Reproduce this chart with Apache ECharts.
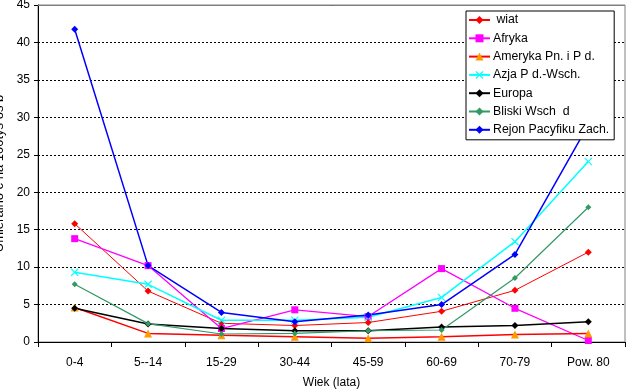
<!DOCTYPE html>
<html>
<head>
<meta charset="utf-8">
<script src="https://cdn.jsdelivr.net/npm/echarts@6/dist/echarts.min.js"></script>
<style>
html,body{margin:0;padding:0;background:#fff;overflow:hidden;}
#main{width:627px;height:391px;}
</style>
</head>
<body>
<div id="main"></div>
<script>
const categories = ['0-4', '5--14', '15-29', '30-44', '45-59', '60-69', '70-79', 'Pow. 80'];
const seriesNames = [' wiat', 'Afryka', 'Ameryka Pn. i P d.', 'Azja P d.-Wsch.', 'Europa', 'Bliski Wsch  d', 'Rejon Pacyfiku Zach.'];
const swiat    = [15.8, 6.8, 2.5, 2.2, 2.6, 4.1, 6.9, 12.0];
const afryka   = [13.8, 10.2, 1.8, 4.3, 3.4, 9.8, 4.5, 0.2];
const ameryka  = [4.6, 1.15, 0.9, 0.7, 0.5, 0.7, 1.0, 1.15];
const azja     = [9.3, 7.7, 2.9, 2.9, 3.3, 5.95, 13.4, 24.1];
const europa   = [4.5, 2.4, 1.8, 1.5, 1.5, 2.0, 2.2, 2.7];
const bliski   = [7.7, 2.45, 1.07, 1.15, 1.5, 1.6, 8.55, 18.0];
const pacyfik  = [41.75, 10.2, 3.95, 2.7, 3.6, 5.0, 11.7, 29.0];
const yTicks = {min: 0, max: 45, interval: 5};

const FONT = 'Liberation Sans';
const xPath = 'path://M1,0 L5,4 L9,0 L10,1 L6,5 L10,9 L9,10 L5,6 L1,10 L0,9 L4,5 L0,1 Z';

function mk(name, data, lineColor, symColor, symbol, size, width) {
  return {
    name: name, type: 'line', data: data,
    symbol: symbol, symbolSize: size, showSymbol: true,
    lineStyle: {color: lineColor, width: width},
    itemStyle: {color: symColor},
    emphasis: {disabled: true},
    animation: false
  };
}

const series = [
  mk(seriesNames[0], swiat, '#FF0000', '#FF0000', 'diamond', 7, 1),
  mk(seriesNames[1], afryka, '#FF00FF', '#FF00FF', 'rect', 7, 1.3),
  mk(seriesNames[2], ameryka, '#FF0000', '#FF9900', 'triangle', 8, 1.5),
  mk(seriesNames[3], azja, '#00FFFF', '#00FFFF', xPath, 8, 1.5),
  mk(seriesNames[4], europa, '#000000', '#000000', 'diamond', 7, 1.5),
  mk(seriesNames[5], bliski, '#339966', '#339966', 'diamond', 6, 1.2),
  mk(seriesNames[6], pacyfik, '#0000FF', '#0000FF', 'diamond', 7, 1.5)
];
series[0].markLine = {
  silent: true, symbol: 'none', label: {show: false},
  lineStyle: {color: '#808080', type: 'solid', width: 1},
  data: [{yAxis: 45}], animation: false
};

const el = document.getElementById('main');
const chart = echarts.init(el, null, {renderer: 'canvas', width: 627, height: 391});
chart.setOption({
  backgroundColor: '#fff',
  animation: false,
  textStyle: {fontFamily: FONT},
  grid: {left: 38, right: 2, top: 5, bottom: 49, show: true, borderColor: '#808080', borderWidth: 1,
         containLabel: false, outerBoundsMode: 'none'},
  legend: {
    orient: 'vertical', left: 466, top: 11,
    data: seriesNames,
    itemWidth: 21, itemHeight: 10, itemGap: 4.3,
    padding: [2, 5, 3, 2],
    borderColor: '#000', borderWidth: 1, backgroundColor: '#fff',
    textStyle: {fontFamily: FONT, fontSize: 12.3, lineHeight: 14, color: '#000', padding: [0, 0, 0, -2]},
    selectedMode: false
  },
  xAxis: {
    type: 'category', data: categories, boundaryGap: true,
    name: 'Wiek (lata)', nameLocation: 'middle', nameGap: 35,
    nameTextStyle: {fontFamily: FONT, fontSize: 12, color: '#000'},
    axisLine: {lineStyle: {color: '#000', width: 1}},
    axisTick: {show: true, interval: 0, length: 5, lineStyle: {color: '#000'}},
    axisLabel: {interval: 0, margin: 15, fontFamily: FONT, fontSize: 12, color: '#000'},
    splitLine: {show: false}
  },
  yAxis: {
    type: 'value', min: yTicks.min, max: yTicks.max, interval: yTicks.interval,
    name: 'Umieralno ć na 100tys os b', nameLocation: 'middle', nameGap: 30, nameRotate: 90,
    nameTextStyle: {fontFamily: FONT, fontSize: 13, color: '#000'},
    axisLine: {show: true, lineStyle: {color: '#000', width: 1}},
    axisTick: {show: true, length: 4, lineStyle: {color: '#000'}},
    axisLabel: {margin: 8, fontFamily: FONT, fontSize: 12, color: '#000'},
    splitLine: {show: true, lineStyle: {color: '#000', type: [2, 2], width: 1}}
  },
  series: series
});
</script>
</body>
</html>
